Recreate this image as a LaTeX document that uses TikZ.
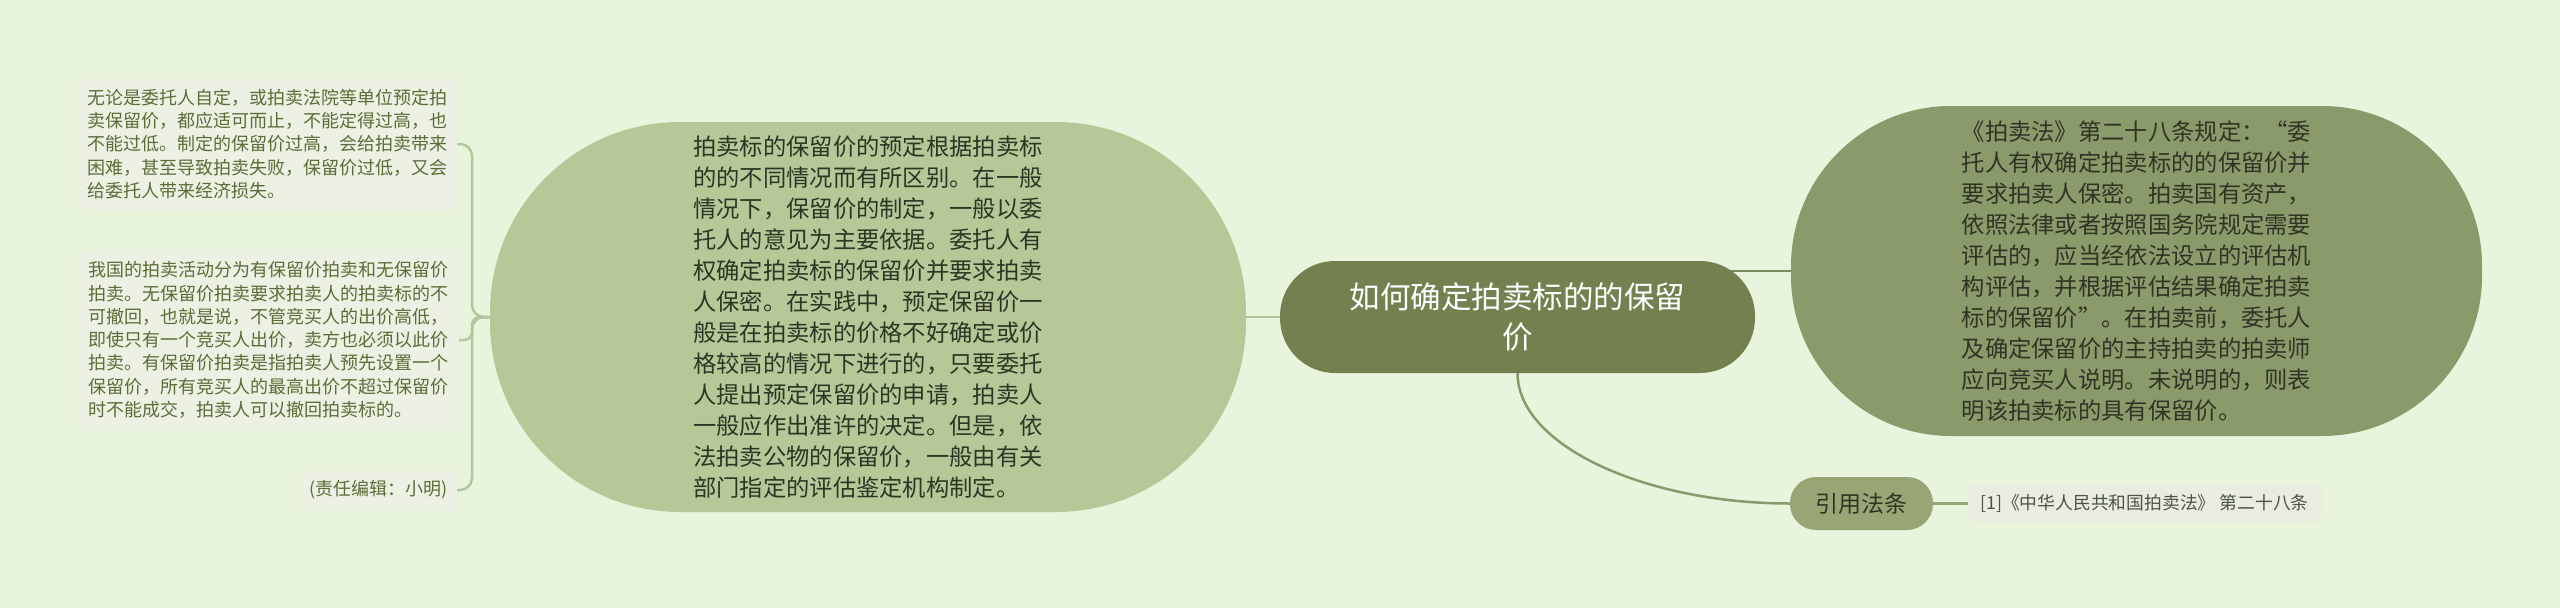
\documentclass[tikz,border=0pt]{standalone}
\usepackage{fontspec}
\setmainfont{Noto Sans CJK SC}
\usetikzlibrary{positioning}
\pgfdeclarelayer{back}
\pgfdeclarelayer{lines}
\pgfsetlayers{back,lines,main}
\definecolor{bgcolor}{HTML}{E8F4DC}
\definecolor{leaffill}{HTML}{EDF1E4}
\definecolor{leaftext}{HTML}{5A6D36}
\definecolor{leafline}{HTML}{B5C69C}
\definecolor{detailfill}{HTML}{B5C898}
\definecolor{topicfill}{HTML}{72814F}
\definecolor{lawfill}{HTML}{8A9A6A}
\definecolor{reffill}{HTML}{97A674}
\definecolor{citefill}{HTML}{E9EDE1}
\definecolor{darktext}{HTML}{2E3524}
\tikzset{
  x=1pt, y=-1pt,
  every node/.style={outer sep=0pt,inner sep=0pt}
}
\tikzset{leaf/.style={
    fill=leaffill,
    text=leaftext,
    rounded corners=6pt,
    minimum width=#1,
    align=left,
    font=\fontsize{18}{23.3}\selectfont
  },
  leaf/.default=380pt}
\tikzset{bigbox/.style={
    text=darktext,
    minimum width=#1,
    align=left,
    font=\fontsize{23.3}{31}\selectfont
  },
  bigbox/.default=756pt}
\tikzset{topic/.style={
    fill=topicfill,
    text=white,
    rounded corners=55pt,
    minimum width=475pt,
    minimum height=112pt,
    align=center,
    font=\fontsize{30.5}{40}\selectfont
  }}
\tikzset{link/.style={line width=2.5pt,draw=#1}}

\begin{document}
\begin{tikzpicture}

  \begin{pgfonlayer}{back}
    \fill [bgcolor] (0,0) rectangle (2560,608);
  \end{pgfonlayer}
  \useasboundingbox (0,0) rectangle (2560,608);

  \node (Topic) [topic] at (1517.5,317) {如何确定拍卖标的的保留\\价};

  \node (Detail) [bigbox, fill=detailfill, minimum height=390pt,
    rounded corners=190pt, left=34pt of Topic] {%
    拍卖标的保留价的预定根据拍卖标\\
    的的不同情况而有所区别。在一般\\
    情况下，保留价的制定，一般以委\\
    托人的意见为主要依据。委托人有\\
    权确定拍卖标的保留价并要求拍卖\\
    人保密。在实践中，预定保留价一\\
    般是在拍卖标的价格不好确定或价\\
    格较高的情况下进行的，只要委托\\
    人提出预定保留价的申请，拍卖人\\
    一般应作出准许的决定。但是，依\\
    法拍卖公物的保留价，一般由有关\\
    部门指定的评估鉴定机构制定。};

  \node (Law) [bigbox=691pt, fill=lawfill, minimum height=330pt,
    rounded corners=160pt] at (2136.5,271) {%
    《拍卖法》第二十八条规定：“委\\
    托人有权确定拍卖标的的保留价并\\
    要求拍卖人保密。拍卖国有资产，\\
    依照法律或者按照国务院规定需要\\
    评估的，应当经依法设立的评估机\\
    构评估，并根据评估结果确定拍卖\\
    标的保留价”。在拍卖前，委托人\\
    及确定保留价的主持拍卖的拍卖师\\
    应向竞买人说明。未说明的，则表\\
    明该拍卖标的具有保留价。};

  \node (Ref) [fill=reffill, text=darktext, rounded corners=26pt,
    minimum width=143pt, minimum height=53pt,
    font=\fontsize{23}{28}\selectfont] at (1861.5,503.5) {引用法条};
  \node (Cite) [fill=citefill, text=darktext!85, rounded corners=4pt,
    minimum width=353pt, minimum height=36pt,
    font=\fontsize{17.8}{20}\selectfont, right=35pt of Ref] {[1]《中华人民共和国拍卖法》 第二十八条};

  \node (Leaf1) [leaf=379pt, minimum height=132pt, anchor=east] at (457,144) {%
    无论是委托人自定，或拍卖法院等单位预定拍\\
    卖保留价，都应适可而止，不能定得过高，也\\
    不能过低。制定的保留价过高，会给拍卖带来\\
    困难，甚至导致拍卖失败，保留价过低，又会\\
    给委托人带来经济损失。};
  \node (Leaf2) [leaf=382pt, minimum height=180pt, anchor=east] at (459,340) {%
    我国的拍卖活动分为有保留价拍卖和无保留价\\
    拍卖。无保留价拍卖要求拍卖人的拍卖标的不\\
    可撤回，也就是说，不管竞买人的出价高低，\\
    即使只有一个竞买人出价，卖方也必须以此价\\
    拍卖。有保留价拍卖是指拍卖人预先设置一个\\
    保留价，所有竞买人的最高出价不超过保留价\\
    时不能成交，拍卖人可以撤回拍卖标的。};
  \node (Leaf3) [leaf=157pt, minimum height=40pt, anchor=east] at (457,490) {(责任编辑：小明)};

  \begin{pgfonlayer}{lines}
    \draw [link=leafline] (Detail) -- (Topic);
    \draw [link=leafline, rounded corners=12pt] (Detail.west) -- ++(-18,0) |- (Leaf1.east);
    \draw [link=leafline, rounded corners=8pt] (Detail.west) -- ++(-18,0) |- (Leaf2.east);
    \draw [link=leafline, rounded corners=12pt] (Detail.west) -- ++(-18,0) |- (Leaf3.east);
    \draw [link=lawfill!90!black] (Topic.center |- Law.west) -- (Law.west);
    \draw [link=lawfill] (Topic.south) .. controls +(0,72) and +(-146,0) .. (Ref.west);
    \draw [link=reffill] (Ref) -- (Cite);
  \end{pgfonlayer}
\end{tikzpicture}
\end{document}
